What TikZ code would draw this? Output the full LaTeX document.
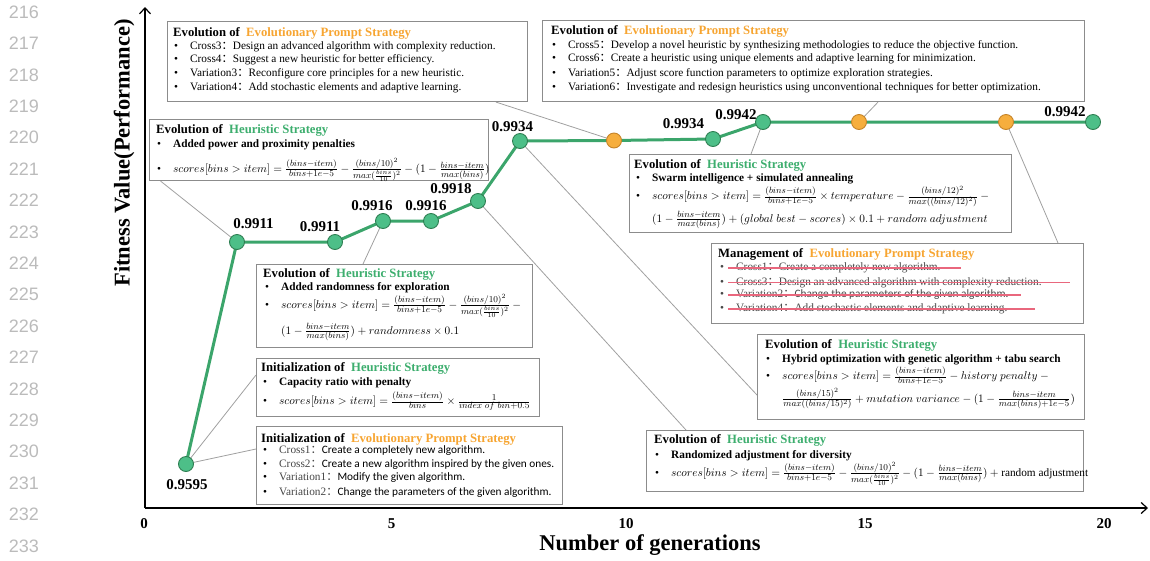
\RequirePackage{fix-cm}
\documentclass[tikz,border=0pt]{standalone}
\usepackage{amsmath}
\usepackage{fontspec}
\setmainfont{Liberation Serif}
\newfontfamily\cjkfont{Noto Sans CJK SC}
\newfontfamily\calfont{Carlito}
\newfontfamily\helvfont{Liberation Sans}
\usetikzlibrary{arrows.meta,calc}
\pgfdeclarelayer{background}
\pgfsetlayers{background,main}
% larger fraction parts, as in the formulas of the boxes
\DeclareMathSizes{11.3}{11.3}{9}{6.5}

\definecolor{hgreen}{HTML}{3DAE6E}
\definecolor{eorange}{HTML}{F7A531}
\definecolor{ptfill}{HTML}{4DBF88}
\definecolor{ptedge}{HTML}{2E7F52}
\definecolor{curvecol}{HTML}{3BA56B}
\definecolor{ofill}{HTML}{F6AE3D}
\definecolor{oedge}{HTML}{C58328}
\definecolor{framecol}{HTML}{8C8C8C}
\definecolor{leadcol}{HTML}{A0A0A0}
\definecolor{strikered}{HTML}{E9677D}
\definecolor{linenum}{HTML}{BBBBBB}

% full-width colon used after the operator names
\newcommand{\fwc}{{\cjkfont ：}}
\newcommand{\hstr}{\textcolor{hgreen}{Heuristic Strategy}}
\newcommand{\epstr}{\textcolor{eorange}{Evolutionary Prompt Strategy}}
% bullet followed by the item text
\newcommand{\itm}[1]{\makebox[16pt][l]{\textbullet}#1}

\tikzset{
  infobox/.style={draw=framecol, line width=1.1pt, fill=white, inner sep=0pt, anchor=north west},
  body/.style={anchor=base west, inner sep=0pt, font=\fontsize{11.3}{13.6}\selectfont},
  head/.style={anchor=base west, inner sep=0pt, font=\fontsize{12.7}{14}\selectfont\bfseries},
  gen/.style={circle, draw=ptedge, fill=ptfill, line width=0.9pt, minimum size=15pt, inner sep=0pt},
  genorange/.style={gen, draw=oedge, fill=ofill},
  val/.style={font=\fontsize{15}{16}\selectfont\bfseries, inner sep=0pt},
  lead/.style={draw=leadcol, line width=0.8pt},
  curveline/.style={draw=curvecol, line width=3pt, line join=round},
  axisline/.style={line width=1.2pt, -{Straight Barb[length=6pt,width=11pt]}},
  ticklab/.style={font=\fontsize{15}{16}\selectfont\bfseries, inner sep=0pt},
  axlabel/.style={font=\fontsize{22.5}{24}\selectfont\bfseries, inner sep=0pt},
  lnum/.style={font=\helvfont\fontsize{18}{20}\selectfont, text=linenum, inner sep=0pt},
  strikeline/.style={draw=strikered, line width=1.3pt},
  faded/.style={text=black!72},
}

\begin{document}
\begin{tikzpicture}[x=1pt,y=-1pt]
\useasboundingbox (0,0) rectangle (1150,560);

% line numbers in the margin
\foreach \n [count=\k from 0] in {216,...,233}
  \node[lnum] (ln\n) at (24,{12+31.41*\k}) {\n};

% axes
\coordinate (O) at (145,508);
\coordinate (ytip) at (145,7);
\coordinate (xtip) at (1148,508);
\draw[axisline] (O) -- (ytip);
\draw[axisline] (O) -- (xtip);
\node[ticklab] (t0) at (144,524) {0};
\node[ticklab] (t5) at (391.5,524) {5};
\node[ticklab] (t10) at (626,524) {10};
\node[ticklab] (t15) at (865,524) {15};
\node[ticklab] (t20) at (1104,524) {20};
\node[axlabel] (xl) at (650,545) {Number of generations};
\node[axlabel, rotate=90] (yl) at (124,153) {Fitness Value(Performance)};

% ---------- information boxes ----------
% b1: evolution of the prompt strategy (top left)
\node[infobox, minimum width=360pt, minimum height=80pt] (b1) at (167,21) {};
\node[head] (b1h) at ($(b1.north west)+(6,15)$) {Evolution of\hspace{0.5em}\epstr};
\node[body] (b1a) at ($(b1.north west)+(7,28)$) {\itm{Cross3\fwc Design an advanced algorithm with complexity reduction.}};
\node[body] (b1b) at ($(b1.north west)+(7,41.7)$) {\itm{Cross4\fwc Suggest a new heuristic for better efficiency.}};
\node[body] (b1c) at ($(b1.north west)+(7,55)$) {\itm{Variation3\fwc Reconfigure core principles for a new heuristic.}};
\node[body] (b1d) at ($(b1.north west)+(7,69)$) {\itm{Variation4\fwc Add stochastic elements and adaptive learning.}};

% b2: evolution of the prompt strategy (top right)
\node[infobox, minimum width=542pt, minimum height=81pt] (b2) at (542,20) {};
\node[head] (b2h) at ($(b2.north west)+(9,14.3)$) {Evolution of\hspace{0.5em}\epstr};
\node[body] (b2a) at ($(b2.north west)+(10,28.3)$) {\itm{Cross5\fwc Develop a novel heuristic by synthesizing methodologies to reduce the objective function.}};
\node[body] (b2b) at ($(b2.north west)+(10,41.7)$) {\itm{Cross6\fwc Create a heuristic using unique elements and adaptive learning for minimization.}};
\node[body] (b2c) at ($(b2.north west)+(10,56)$) {\itm{Variation5\fwc Adjust score function parameters to optimize exploration strategies.}};
\node[body] (b2d) at ($(b2.north west)+(10,70)$) {\itm{Variation6\fwc Investigate and redesign heuristics using unconventional techniques for better optimization.}};

% b3: power and proximity penalties
\node[infobox, minimum width=339pt, minimum height=61pt] (b3) at (149,119) {};
\node[head] (b3h) at ($(b3.north west)+(7,14)$) {Evolution of\hspace{0.5em}\hstr};
\node[body] (b3a) at ($(b3.north west)+(8,28)$) {\itm{\textbf{Added power and proximity penalties}}};
\node[body] (b3b) at ($(b3.north west)+(8,53.5)$) {\itm{$scores[bins>item]=\frac{(bins-item)}{bins+1e-5}-\frac{(bins/10)^2}{max(\frac{bins}{10})^2}-(1-\frac{bins-item}{max(bins)})$}};

% b4: swarm intelligence
\node[infobox, minimum width=382pt, minimum height=78pt] (b4) at (629,154) {};
\node[head] (b4h) at ($(b4.north west)+(5,14.3)$) {Evolution of\hspace{0.5em}\hstr};
\node[body] (b4a) at ($(b4.north west)+(7,27.7)$) {\itm{\textbf{Swarm intelligence + simulated annealing}}};
\node[body] (b4b) at ($(b4.north west)+(7,45.7)$) {\itm{$scores[bins>item]=\frac{(bins-item)}{bins+1e-5}\times temperature-\frac{(bins/12)^2}{max((bins/12)^2)}-{}$}};
\node[body] (b4c) at ($(b4.north west)+(23,68)$) {$(1-\frac{bins-item}{max(bins)})+(global\ best-scores)\times 0.1+random\ adjustment$};

% b5: management of the prompt strategy
\node[infobox, minimum width=372pt, minimum height=80pt] (b5) at (711,243) {};
\node[head] (b5h) at ($(b5.north west)+(7,14.3)$) {Management of\hspace{0.5em}\epstr};
\node[body, faded] (b5a) at ($(b5.north west)+(9,27.7)$) {\itm{Cross1\fwc Create a completely new algorithm.}};
\node[body, faded] (b5b) at ($(b5.north west)+(9,42)$) {\itm{Cross3\fwc Design an advanced algorithm with complexity reduction.}};
\node[body, faded] (b5c) at ($(b5.north west)+(9,54.7)$) {\itm{Variation2\fwc{\calfont Change the parameters of the given algorithm.}}};
\node[body, faded] (b5d) at ($(b5.north west)+(9,68.7)$) {\itm{Variation4\fwc Add stochastic elements and adaptive learning.}};
\draw[strikeline] ($(b5.north west)+(17,25)$) -- ($(b5.north west)+(250,25)$);
\draw[strikeline] ($(b5.north west)+(17,39.3)$) -- ($(b5.north west)+(359,39.3)$);
\draw[strikeline] ($(b5.north west)+(17,52)$) -- ($(b5.north west)+(310,52)$);
\draw[strikeline] ($(b5.north west)+(17,66)$) -- ($(b5.north west)+(324,66)$);

% b6: randomness for exploration
\node[infobox, minimum width=276pt, minimum height=83pt] (b6) at (256,264) {};
\node[head] (b6h) at ($(b6.north west)+(7,13.3)$) {Evolution of\hspace{0.5em}\hstr};
\node[body] (b6a) at ($(b6.north west)+(9,26.7)$) {\itm{\textbf{Added randomness for exploration}}};
\node[body] (b6b) at ($(b6.north west)+(9,44)$) {\itm{$scores[bins>item]=\frac{(bins-item)}{bins+1e-5}-\frac{(bins/10)^2}{max(\frac{bins}{10})^2}-{}$}};
\node[body] (b6c) at ($(b6.north west)+(25,70)$) {$(1-\frac{bins-item}{max(bins)})+randomness\times 0.1$};

% b7: hybrid optimization
\node[infobox, minimum width=327pt, minimum height=85pt] (b7) at (757,334) {};
\node[head] (b7h) at ($(b7.north west)+(8,14.3)$) {Evolution of\hspace{0.5em}\hstr};
\node[body] (b7a) at ($(b7.north west)+(9,28.3)$) {\itm{\textbf{Hybrid optimization with genetic algorithm + tabu search}}};
\node[body] (b7b) at ($(b7.north west)+(9,45.7)$) {\itm{$scores[bins>item]=\frac{(bins-item)}{bins+1e-5}-history\ penalty-{}$}};
\node[body] (b7c) at ($(b7.north west)+(25,68.3)$) {$\frac{(bins/15)^2}{max((bins/15)^2)}+mutation\ variance-(1-\frac{bins-item}{max(bins)+1e-5})$};

% b8: initial heuristic
\node[infobox, minimum width=283pt, minimum height=58pt] (b8) at (256,358) {};
\node[head] (b8h) at ($(b8.north west)+(5,13.7)$) {Initialization of\hspace{0.5em}\hstr};
\node[body] (b8a) at ($(b8.north west)+(7,27.7)$) {\itm{\textbf{Capacity ratio with penalty}}};
\node[body] (b8b) at ($(b8.north west)+(7,46.7)$) {\itm{$scores[bins>item]=\frac{(bins-item)}{bins}\times\frac{1}{index\ of\ bin+0.5}$}};

% b9: initial prompt strategy
\node[infobox, minimum width=306pt, minimum height=78pt] (b9) at (256,426) {};
\node[head] (b9h) at ($(b9.north west)+(5,16.3)$) {Initialization of\hspace{0.5em}\epstr};
\node[body] (b9a) at ($(b9.north west)+(7,27.3)$) {\itm{{\color{black!72}Cross1\fwc}{\calfont Create a completely new algorithm.}}};
\node[body] (b9b) at ($(b9.north west)+(7,41.7)$) {\itm{{\color{black!72}Cross2\fwc}{\calfont Create a new algorithm inspired by the given ones.}}};
\node[body] (b9c) at ($(b9.north west)+(7,54)$) {\itm{{\color{black!72}Variation1\fwc}{\calfont Modify the given algorithm.}}};
\node[body] (b9d) at ($(b9.north west)+(7,69)$) {\itm{{\color{black!72}Variation2\fwc}{\calfont Change the parameters of the given algorithm.}}};

% b10: randomized adjustment
\node[infobox, minimum width=437pt, minimum height=61pt] (b10) at (646,430) {};
\node[head] (b10h) at ($(b10.north west)+(8,13.3)$) {Evolution of\hspace{0.5em}\hstr};
\node[body] (b10a) at ($(b10.north west)+(9,28.3)$) {\itm{\textbf{Randomized adjustment for diversity}}};
\node[body] (b10b) at ($(b10.north west)+(9,46.3)$) {\itm{$scores[bins>item]=\frac{(bins-item)}{bins+1e-5}-\frac{(bins/10)^2}{max(\frac{bins}{10})^2}-(1-\frac{bins-item}{max(bins)})+\text{random adjustment}$}};

% ---------- generations ----------
\node[gen] (g1) at (186,464) {};
\node[gen] (g2) at (237,242) {};
\node[gen] (g3) at (335,242) {};
\node[gen] (g4) at (383,221) {};
\node[gen] (g5) at (431,221) {};
\node[gen] (g6) at (478,201) {};
\node[gen] (g7) at (520,141) {};
\node[genorange] (o1) at (614,140.5) {};
\node[gen] (g8) at (713,139) {};
\node[gen] (g9) at (763,122) {};
\node[genorange] (o2) at (859,122) {};
\node[genorange] (o3) at (1006,122) {};
\node[gen] (g10) at (1093,122) {};

% fitness values
\node[val] (v1) at (187,485) {0.9595};
\node[val] (v2) at (253.5,224) {0.9911};
\node[val] (v3) at (320,226.5) {0.9911};
\node[val] (v4) at (372,206) {0.9916};
\node[val] (v5) at (426,206) {0.9916};
\node[val] (v6) at (451,189) {0.9918};
\node[val] (v7) at (512.5,127) {0.9934};
\node[val] (v8) at (683.5,124) {0.9934};
\node[val] (v9) at (736,115) {0.9942};
\node[val] (v10) at (1065,112) {0.9942};

\begin{pgfonlayer}{background}
  % leaders from generations to their boxes
  \draw[lead] (g1.center) -- ($(b9.north west)+(0,23)$);
  \draw[lead] (g1.center) -- ($(b8.north west)+(0,17)$);
  \draw[lead] (g2.center) -- ($(b3.south west)+(11.6,0)$);
  \draw[lead] (g4.center) -- ($(b6.north west)+(107,0)$);
  \draw[lead] (g6.center) -- ($(b10.north west)+(40,0)$);
  \draw[lead] (g7.center) -- ($(b7.north west)+(0,61)$);
  \draw[lead] (o1.center) -- ($(b1.south west)+(329,0)$);
  \draw[lead] (g9.center) -- ($(b4.north west)+(122,0)$);
  \draw[lead] (o2.center) -- ($(b2.south west)+(336,0)$);
  \draw[lead] (o3.center) -- ($(b5.north west)+(347,0)$);
  % fitness curve
  \draw[curveline] (g1.center) -- (g2.center) -- (g3.center) -- (g4.center) -- (g5.center)
    -- (g6.center) -- (g7.center) -- (o1.center) -- (g8.center) -- (g9.center)
    -- (o2.center) -- (o3.center) -- (g10.center);
\end{pgfonlayer}
\end{tikzpicture}
\end{document}
